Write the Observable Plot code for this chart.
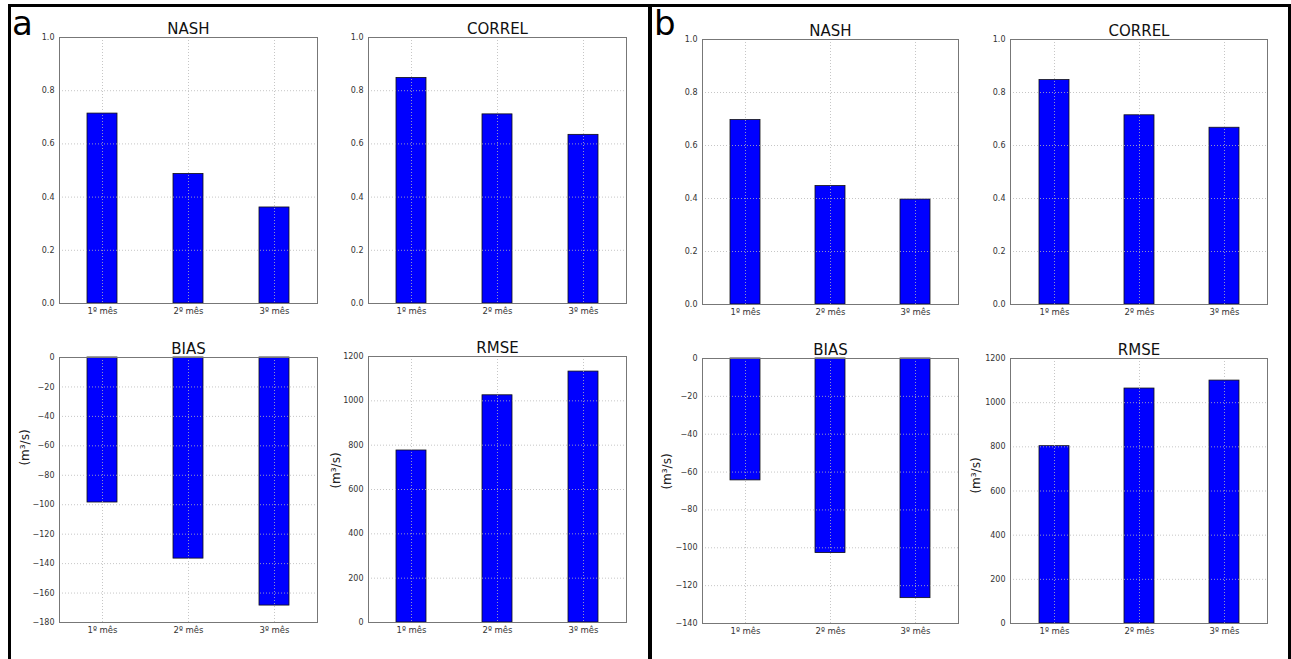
<!DOCTYPE html>
<html>
<head>
<meta charset="utf-8">
<script src="https://cdn.jsdelivr.net/npm/d3@7"></script>
<script src="https://cdn.jsdelivr.net/npm/@observablehq/plot@0.6"></script>
<style>
  html, body { margin: 0; padding: 0; background: #fff; }
  #root { position: relative; width: 1291px; height: 659px; overflow: hidden; background: #fff; font-family: "DejaVu Sans", sans-serif; }
  #root svg { position: absolute; }
  .line { position: absolute; background: #000; }
  .letter { position: absolute; font-family: "DejaVu Sans", sans-serif; font-size: 34px; line-height: 34px; color: #000; }
</style>
</head>
<body>
<div id="root"></div>
<script>
// ---- data ----
const months = ["1º mês", "2º mês", "3º mês"];
const nashA   = [0.714, 0.487, 0.361];
const correlA = [0.848, 0.711, 0.634];
const biasA   = [-98.5, -136.6, -168.5];
const rmseA   = [776, 1025, 1132];
const nashB   = [0.696, 0.447, 0.396];
const correlB = [0.847, 0.714, 0.667];
const biasB   = [-64.4, -102.8, -126.6];
const rmseB   = [803, 1064, 1100];

const unitTicks  = [0, 0.2, 0.4, 0.6, 0.8, 1.0];
const biasTicksA = [-180, -160, -140, -120, -100, -80, -60, -40, -20, 0];
const biasTicksB = [-140, -120, -100, -80, -60, -40, -20, 0];
const rmseTicks  = [0, 200, 400, 600, 800, 1000, 1200];
const unitLabel  = "(m³/s)";

// ---- layout ----
const root = document.getElementById("root");
const ML = 60, MR = 6, MT = 30, MB = 26;

function addLine(l, t, w, h) {
  const d = document.createElement("div");
  d.className = "line";
  Object.assign(d.style, {left: l + "px", top: t + "px", width: w + "px", height: h + "px"});
  root.appendChild(d);
}
function addLetter(txt, l, t) {
  const d = document.createElement("div");
  d.className = "letter";
  d.textContent = txt;
  Object.assign(d.style, {left: l + "px", top: t + "px"});
  root.appendChild(d);
}

function panel(values, cfg) {
  const data = months.map((m, i) => ({m, v: values[i]}));
  const W = cfg.x1 - cfg.x0, H = cfg.y1 - cfg.y0;
  const grid = {stroke: "#b8b8b8", strokeOpacity: 1, strokeWidth: 0.8, strokeDasharray: "1,2"};
  const marks = [
    Plot.barY(data, {x: "m", y: "v", fill: "#0000ff", stroke: "#111", strokeWidth: 0.8}),
    Plot.gridX(grid),
    Plot.gridY(cfg.ticks, grid),
    Plot.axisY(cfg.ticks, {tickSize: 0, tickPadding: 5, tickFormat: cfg.fmt, fontSize: 8, fill: "#333", label: null}),
    Plot.axisX({tickSize: 0, tickPadding: 4, fontSize: 8.5, fill: "#333", label: null}),
    Plot.frame({stroke: "#777", strokeWidth: 1}),
    Plot.text([cfg.title], {frameAnchor: "top", lineAnchor: "bottom", dy: -4, fontSize: 15, fill: "#111"})
  ];
  if (cfg.ylabel) {
    marks.push(Plot.text([cfg.ylabel], {
      frameAnchor: "left", rotate: -90, textAnchor: "middle", lineAnchor: "middle",
      dx: cfg.lx - cfg.x0, dy: cfg.ly - (cfg.y0 + cfg.y1) / 2, fontSize: 12, fill: "#222"
    }));
  }
  const svg = Plot.plot({
    width: W + ML + MR,
    height: H + MT + MB,
    marginLeft: ML, marginRight: MR, marginTop: MT, marginBottom: MB,
    style: {fontFamily: "DejaVu Sans, sans-serif", background: "transparent", overflow: "visible"},
    x: {type: "band", domain: months, paddingInner: 0.65, paddingOuter: 0.325},
    y: {domain: cfg.domain},
    marks
  });
  svg.style.left = (cfg.x0 - ML) + "px";
  svg.style.top = (cfg.y0 - MT) + "px";
  root.appendChild(svg);
}

const f1 = d3.format(".1f");
const fi = d => d3.format("d")(d).replace("-", "−");

panel(nashA,   {title: "NASH",   domain: [0, 1], ticks: unitTicks, fmt: f1, x0: 59,  x1: 317,  y0: 37,  y1: 303});
panel(correlA, {title: "CORREL", domain: [0, 1], ticks: unitTicks, fmt: f1, x0: 368, x1: 626,  y0: 37,  y1: 303});
panel(biasA,   {title: "BIAS",   domain: [-180, 0], ticks: biasTicksA, fmt: fi, x0: 59,  x1: 317, y0: 357, y1: 622, ylabel: unitLabel, lx: 25, ly: 447});
panel(rmseA,   {title: "RMSE",   domain: [0, 1200], ticks: rmseTicks, fmt: fi, x0: 368, x1: 626, y0: 356, y1: 622, ylabel: unitLabel, lx: 336, ly: 470});
panel(nashB,   {title: "NASH",   domain: [0, 1], ticks: unitTicks, fmt: f1, x0: 702, x1: 958,  y0: 39,  y1: 304});
panel(correlB, {title: "CORREL", domain: [0, 1], ticks: unitTicks, fmt: f1, x0: 1010, x1: 1267, y0: 39, y1: 304});
panel(biasB,   {title: "BIAS",   domain: [-140, 0], ticks: biasTicksB, fmt: fi, x0: 702, x1: 958, y0: 358, y1: 623, ylabel: unitLabel, lx: 667, ly: 471});
panel(rmseB,   {title: "RMSE",   domain: [0, 1200], ticks: rmseTicks, fmt: fi, x0: 1010, x1: 1267, y0: 358, y1: 623, ylabel: unitLabel, lx: 976, ly: 475});

// panel frames
addLine(8, 4, 1283, 3);      // top edge
addLine(8, 4, 3, 655);       // left edge
addLine(648, 4, 4, 655);     // divider
addLine(1288, 4, 3, 655);    // right edge

addLetter("a", 12, 6);
addLetter("b", 654, 6);
</script>
</body>
</html>
